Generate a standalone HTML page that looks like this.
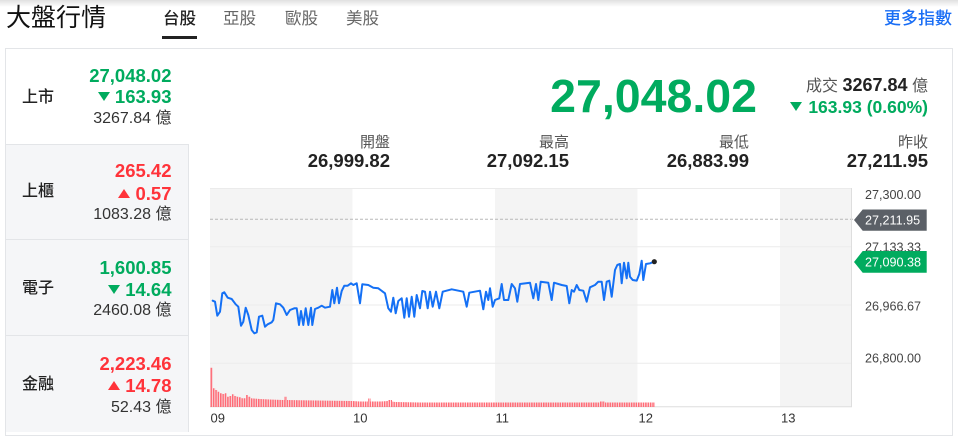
<!DOCTYPE html>
<html><head><meta charset="utf-8">
<style>
*{margin:0;padding:0;box-sizing:border-box}
html,body{width:958px;height:443px;overflow:hidden;background:#fff}
body{position:relative;font-family:"Liberation Sans","Noto Sans CJK TC",sans-serif;color:#222}
.t{position:absolute;line-height:1;white-space:nowrap}
.g{color:#00ab5e}.r{color:#ff333a}
.b{font-weight:bold}
.dn,.up{display:inline-block;width:0;height:0;border-left:6px solid transparent;border-right:6px solid transparent;vertical-align:2px;margin-right:5px}
.dn{border-top:9px solid #00ab5e}
.up{border-bottom:9px solid #ff333a}
.v1{font-size:18.5px;font-weight:bold}
.v3{font-size:16px;color:#333}
.lab{font-size:16px;color:#222;left:22px;font-weight:500}
.sl{font-size:15px;color:#555}
.sv{font-size:18.5px;font-weight:bold;color:#222}
</style></head><body>
<div style="position:absolute;left:0;top:0;width:958px;height:7px;background:linear-gradient(rgba(0,0,0,0.12),rgba(0,0,0,0))"></div>
<div class="t" style="left:6px;top:6px;font-size:25px;color:#111">大盤行情</div>
<div class="t" style="left:163px;top:10.5px;font-size:16.5px;color:#222;font-weight:500">台股</div>
<div style="position:absolute;left:162px;top:36px;width:35px;height:3px;background:#222"></div>
<div class="t" style="left:223px;top:10.5px;font-size:16.5px;color:#666">亞股</div>
<div class="t" style="left:285px;top:10.5px;font-size:16.5px;color:#666">歐股</div>
<div class="t" style="left:346px;top:10.5px;font-size:16.5px;color:#666">美股</div>
<div class="t" style="right:6px;top:9.5px;font-size:17px;color:#1a6ef5;font-weight:500">更多指數</div>

<!-- card -->
<div style="position:absolute;left:5px;top:48px;width:948px;height:388px;border:1px solid #e3e5e8"></div>
<div style="position:absolute;left:6px;top:144px;width:183px;height:288px;background:#f5f6f8;border-top:1px solid #e3e5e8;border-right:1px solid #e3e5e8"></div>
<div style="position:absolute;left:6px;top:239px;width:182px;height:1px;background:#e3e5e8"></div>
<div style="position:absolute;left:6px;top:335px;width:182px;height:1px;background:#e3e5e8"></div>

<!-- left rows -->
<div class="t lab" style="top:89.5px">上市</div>
<div class="t v1 g" style="right:786.5px;top:67px">27,048.02</div>
<div class="t v1 g" style="right:786.5px;top:88px"><span class="dn"></span>163.93</div>
<div class="t v3" style="right:786.5px;top:111px">3267.84 億</div>

<div class="t lab" style="top:184px">上櫃</div>
<div class="t v1 r" style="right:786.5px;top:162px">265.42</div>
<div class="t v1 r" style="right:786.5px;top:185px"><span class="up"></span>0.57</div>
<div class="t v3" style="right:786.5px;top:207px">1083.28 億</div>

<div class="t lab" style="top:280.5px">電子</div>
<div class="t v1 g" style="right:786.5px;top:258.5px">1,600.85</div>
<div class="t v1 g" style="right:786.5px;top:280.5px"><span class="dn"></span>14.64</div>
<div class="t v3" style="right:786.5px;top:303px">2460.08 億</div>

<div class="t lab" style="top:377px">金融</div>
<div class="t v1 r" style="right:786.5px;top:354.5px">2,223.46</div>
<div class="t v1 r" style="right:786.5px;top:377px"><span class="up"></span>14.78</div>
<div class="t v3" style="right:786.5px;top:399.5px">52.43 億</div>

<!-- right header -->
<div class="t g b" style="right:201px;top:72.5px;font-size:46.5px">27,048.02</div>
<div class="t" style="right:30px;top:76px;font-size:16px;color:#555">成交 <span class="b" style="font-size:18px;color:#222">3267.84</span> 億</div>
<div class="t g b" style="right:30px;top:99px;font-size:17.5px"><span class="dn" style="margin-right:6px"></span>163.93 (0.60%)</div>

<div class="t sl" style="right:568px;top:135px">開盤</div>
<div class="t sl" style="right:389px;top:135px">最高</div>
<div class="t sl" style="right:209px;top:135px">最低</div>
<div class="t sl" style="right:30px;top:135px">昨收</div>
<div class="t sv" style="right:568px;top:152px">26,999.82</div>
<div class="t sv" style="right:389px;top:152px">27,092.15</div>
<div class="t sv" style="right:209px;top:152px">26,883.99</div>
<div class="t sv" style="right:30px;top:152px">27,211.95</div>

<svg width="958" height="443" style="position:absolute;left:0;top:0" xmlns="http://www.w3.org/2000/svg">
<defs>
<pattern id="vb" patternUnits="userSpaceOnUse" x="210.5" y="0" width="2.375" height="443">
<rect x="0" y="0" width="1.6" height="443" fill="#ff6b76"/>
</pattern>
</defs>
<rect x="210" y="188" width="142.5" height="219" fill="#f4f4f4"/>
<rect x="495" y="188" width="142.5" height="219" fill="#f4f4f4"/>
<rect x="780" y="188" width="71.5" height="219" fill="#f4f4f4"/>
<g stroke="#ebebeb" stroke-width="1">
<line x1="210" y1="188.5" x2="852" y2="188.5"/>
<line x1="210" y1="246.7" x2="852" y2="246.7"/>
<line x1="210" y1="305" x2="852" y2="305"/>
<line x1="210" y1="363.3" x2="852" y2="363.3"/>
</g>
<line x1="210" y1="219.2" x2="856" y2="219.2" stroke="#b8b8b8" stroke-width="1" stroke-dasharray="3 2"/>
<line x1="851.5" y1="188" x2="851.5" y2="407" stroke="#dedede"/>
<line x1="210" y1="406.8" x2="852" y2="406.8" stroke="#dedede"/>
<polygon fill="url(#vb)" points="210.5,407 210.5,367.7 212.8,367.7 212.8,388.3 215.2,388.3 215.2,390 217.6,390 217.6,391.7 220,391.7 220,393.3 222.4,393.3 222.4,394 224.7,394 224.7,393.3 227,393.3 227,396.7 229.5,396.7 229.5,396 231.8,396 231.8,394.3 234.2,394.3 234.2,396 236.6,396 236.6,396.7 239,396.7 239,397.3 241.3,397.3 241.3,398.3 246,398.3 246,395 248.4,395 248.4,396.7 250.8,396.7 250.8,398.3 260,399 270,399.5 283,400 284.5,400 284.5,396.7 287,396.7 287,400 300,400.3 352,401 360,401.5 368,401.5 368,398.5 370.5,398.5 370.5,401.5 380,401.5 388,401 388,400 392,400 392,401.5 395,402 420,402.5 495,402.5 600,402.5 600,401.5 605,401.5 605,402.5 655,402.5 655,407"/>
<polyline fill="none" stroke="#1470f5" stroke-width="2" stroke-linejoin="round" stroke-linecap="round" points="212.7,300.7 215,301.7 217.3,315.7 220,311.7 222.3,293.3 224.3,292.3 227.7,297.7 231.7,299 235.7,304.3 238.3,306.7 241,325.7 243.3,321.7 245.7,307.7 248.3,315 251.7,330 254.3,333.3 256.7,332.3 259,316.7 262.3,315.7 265,326.7 267.7,324.3 271.7,322.3 273.3,320 276,303.3 280,304.3 283.3,307.7 286.7,315 290,310 294.3,308.3 296.7,308.3 299,325 301,311 303.3,325 305.7,308.3 308.3,325 311,307.7 312.3,325 315,309 318.3,307.7 321.7,305.7 325,307.7 330,306.7 332.3,290 334.3,303.3 337,287.7 339,303.3 341.7,291 344.3,285.7 347.7,285.7 351,283.3 353.3,285 356.7,283.3 360,303.3 362.3,284.3 368.3,285 373.3,287.7 378.3,288.3 385,293.3 388.3,308.3 391,311.7 393.3,297.7 395.7,313.3 398.3,301 401.7,298.3 404.3,317.7 406.7,298.3 409,316.7 411.7,296.7 414.3,316.7 416.7,295 420,308.3 422.3,291 425,291.7 427.7,308.3 430,291.7 432.7,306.7 436,291.7 439.3,308.3 442.7,291.7 451.7,289.3 463.3,291.7 466.7,306.7 469.3,292.7 480,290.7 483.3,309.3 486,291.7 488.3,300 490,288.3 492.7,306.7 495,300 499.3,298.3 501.7,284 504,300 508.3,300 511.7,284 515,288.3 517.3,301.7 520,284 530,282.7 533.3,298.3 536,284 538.3,300 540.7,281.7 548.3,282.7 551.7,300 554,282.7 561.7,285 566.7,286 569.3,303.3 571.7,290 574,291.7 576.7,285 579.3,290 583.3,290.7 586.7,301.7 590,287.3 595,285 598.3,281.7 601.7,281.7 604,300 606.7,281.7 609.3,280.7 611.7,296.7 615,270 617.3,265 620,264 621.7,283.3 624,262.7 626.7,278.3 628.3,262.7 630,276.7 632.7,280 636.7,280.7 639.3,274 641.7,260.7 643.3,280 646,264 650,263.3 654.3,261.7"/>
<circle cx="654.3" cy="261.7" r="2.6" fill="#222"/>
<g font-family="Liberation Sans, sans-serif" font-size="12.6" fill="#444">
<text x="865" y="199">27,300.00</text>
<text x="865" y="251.5">27,133.33</text>
<text x="865" y="310.5">26,966.67</text>
<text x="865" y="362.5">26,800.00</text>
</g>
<polygon points="854,220 862.7,209.5 926.7,209.5 926.7,230.7 862.7,230.7" fill="#5b6067"/>
<text x="865" y="224.6" font-family="Liberation Sans, sans-serif" font-size="12.6" fill="#fff">27,211.95</text>
<polygon points="854,262 862.7,251 926.7,251 926.7,272.7 862.7,272.7" fill="#00ab5e"/>
<text x="865" y="266.5" font-family="Liberation Sans, sans-serif" font-size="12.6" fill="#fff">27,090.38</text>
<g font-family="Liberation Sans, sans-serif" font-size="13" fill="#333">
<text x="210.5" y="422.5">09</text>
<text x="353" y="422.5">10</text>
<text x="495.5" y="422.5">11</text>
<text x="638.5" y="422.5">12</text>
<text x="781" y="422.5">13</text>
</g>
</svg>
</body></html>
